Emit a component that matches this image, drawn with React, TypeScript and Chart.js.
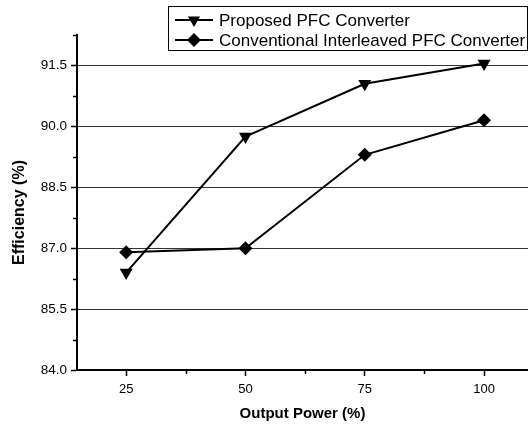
import React, { useEffect, useRef } from 'react';
import { Chart, registerables } from 'chart.js';

Chart.register(...registerables);

const outputPower = [25, 50, 75, 100];
const proposed = [86.4, 89.75, 91.05, 91.55];
const conventional = [86.9, 87.0, 89.3, 90.15];
const xTicks = [25, 50, 75, 100];
const xMinorTicks = [37.5, 62.5, 87.5];
const yTicks = [84.0, 85.5, 87.0, 88.5, 90.0, 91.5];
const yMinorTicks = [84.75, 86.25, 87.75, 89.25, 90.75, 92.25];
const seriesLabels = ['Proposed PFC Converter', 'Conventional Interleaved PFC Converter'];
const xTitle = 'Output Power (%)';
const yTitle = 'Efficiency (%)';
const xRange = [14.7, 109.2];
const yRange = [84, 92.25];

const FONT = '"Liberation Sans", Arial, Helvetica, sans-serif';

function drawTriangleDown(ctx: CanvasRenderingContext2D, x: number, y: number, r: number) {
  ctx.beginPath();
  ctx.moveTo(x, y + r);
  ctx.lineTo(x + r * Math.sin((2 * Math.PI) / 3), y - r / 2);
  ctx.lineTo(x - r * Math.sin((2 * Math.PI) / 3), y - r / 2);
  ctx.closePath();
  ctx.fill();
}

function drawDiamond(ctx: CanvasRenderingContext2D, x: number, y: number, r: number) {
  ctx.beginPath();
  ctx.moveTo(x, y - r);
  ctx.lineTo(x + r, y);
  ctx.lineTo(x, y + r);
  ctx.lineTo(x - r, y);
  ctx.closePath();
  ctx.fill();
}

const extrasPlugin = {
  id: 'extras',
  afterDraw(chart: any) {
    const ctx: CanvasRenderingContext2D = chart.ctx;
    const xs = chart.scales.x;
    const ys = chart.scales.y;
    const area = chart.chartArea;
    ctx.save();
    ctx.strokeStyle = '#000';
    ctx.lineWidth = 1.5;
    // minor ticks
    xMinorTicks.forEach((v) => {
      const px = Math.round(xs.getPixelForValue(v)) + 0.5;
      ctx.beginPath();
      ctx.moveTo(px, area.bottom);
      ctx.lineTo(px, area.bottom + 4);
      ctx.stroke();
    });
    yMinorTicks.forEach((v) => {
      const py = Math.round(ys.getPixelForValue(v)) + 0.5;
      ctx.beginPath();
      ctx.moveTo(area.left, py);
      ctx.lineTo(area.left - 4, py);
      ctx.stroke();
    });

    // y axis title
    ctx.save();
    ctx.translate(20, (area.top + area.bottom) / 2 + 10);
    ctx.rotate(-Math.PI / 2);
    ctx.fillStyle = '#000';
    ctx.font = `bold 16px ${FONT}`;
    ctx.textAlign = 'center';
    ctx.textBaseline = 'middle';
    ctx.fillText(yTitle, 0, 0);
    ctx.restore();

    // legend
    ctx.fillStyle = '#fff';
    ctx.fillRect(168.5, 6.5, 359, 44);
    ctx.lineWidth = 1;
    ctx.strokeStyle = '#000';
    ctx.strokeRect(168.5, 6.5, 359, 44);
    const rows = [20, 40];
    ctx.fillStyle = '#000';
    ctx.font = `17px ${FONT}`;
    ctx.textBaseline = 'middle';
    ctx.textAlign = 'left';
    seriesLabels.forEach((label, i) => {
      const y = rows[i];
      ctx.lineWidth = 2;
      ctx.beginPath();
      ctx.moveTo(175, y);
      ctx.lineTo(213, y);
      ctx.stroke();
      if (i === 0) drawTriangleDown(ctx, 194, y, 7);
      else drawDiamond(ctx, 194, y, 7);
      ctx.fillText(label, 219, y + 1);
    });
    ctx.restore();
  },
};

export default function App() {
  const ref = useRef<HTMLCanvasElement | null>(null);

  useEffect(() => {
    if (!ref.current) return;
    const chart = new Chart(ref.current, {
      type: 'line',
      data: {
        datasets: [
          {
            label: seriesLabels[0],
            data: outputPower.map((x, i) => ({ x, y: proposed[i] })),
            borderColor: '#000',
            backgroundColor: '#000',
            borderWidth: 2,
            pointStyle: 'triangle',
            rotation: 180,
            pointRadius: 7.5,
            pointBorderWidth: 0,
            pointBackgroundColor: '#000',
            tension: 0,
            clip: false as any,
          },
          {
            label: seriesLabels[1],
            data: outputPower.map((x, i) => ({ x, y: conventional[i] })),
            borderColor: '#000',
            backgroundColor: '#000',
            borderWidth: 2,
            pointStyle: 'rectRot',
            pointRadius: 7,
            pointBorderWidth: 0,
            pointBackgroundColor: '#000',
            tension: 0,
            clip: false as any,
          },
        ],
      },
      options: {
        animation: false,
        responsive: false,
        maintainAspectRatio: false,
        layout: { autoPadding: false, padding: { top: 35, right: 0, left: 0, bottom: 0 } },
        plugins: {
          legend: { display: false },
          tooltip: { enabled: false },
        },
        scales: {
          x: {
            type: 'linear',
            min: xRange[0],
            max: xRange[1],
            afterBuildTicks: (s: any) => {
              s.ticks = xTicks.map((v) => ({ value: v }));
            },
            afterFit: (s: any) => {
              s.height = 58;
              s.paddingLeft = 0;
              s.paddingRight = 0;
            },
            grid: { drawOnChartArea: false, tickLength: 6, tickColor: '#000', tickWidth: 1.5 },
            border: { color: '#000', width: 2 },
            ticks: {
              color: '#000',
              font: { family: FONT, size: 13 },
              padding: 6,
              maxRotation: 0,
              autoSkip: false,
              callback: (v: any) => String(v),
            },
            title: {
              display: true,
              text: xTitle,
              color: '#000',
              font: { family: FONT, size: 15, weight: 'bold' },
              padding: { top: 0, bottom: 5 },
            },
          },
          y: {
            type: 'linear',
            min: yRange[0],
            max: yRange[1],
            afterBuildTicks: (s: any) => {
              s.ticks = yTicks.map((v) => ({ value: v }));
            },
            afterFit: (s: any) => {
              s.width = 77;
              s.paddingTop = 0;
              s.paddingBottom = 0;
            },
            grid: { color: '#333', lineWidth: 1, tickLength: 6, tickColor: '#000', tickWidth: 1.5 },
            border: { color: '#000', width: 2 },
            ticks: {
              color: '#000',
              font: { family: FONT, size: 13.5 },
              padding: 4,
              autoSkip: false,
              callback: (v: any) => Number(v).toFixed(1),
            },
            title: { display: false },
          },
        },
      },
      plugins: [extrasPlugin],
    } as any);
    return () => chart.destroy();
  }, []);

  return (
    <div style={{ position: 'fixed', left: 0, top: 0, width: 528, height: 428, background: '#fff' }}>
      <canvas ref={ref} width={528} height={428} style={{ display: 'block', width: 528, height: 428 }} />
    </div>
  );
}
